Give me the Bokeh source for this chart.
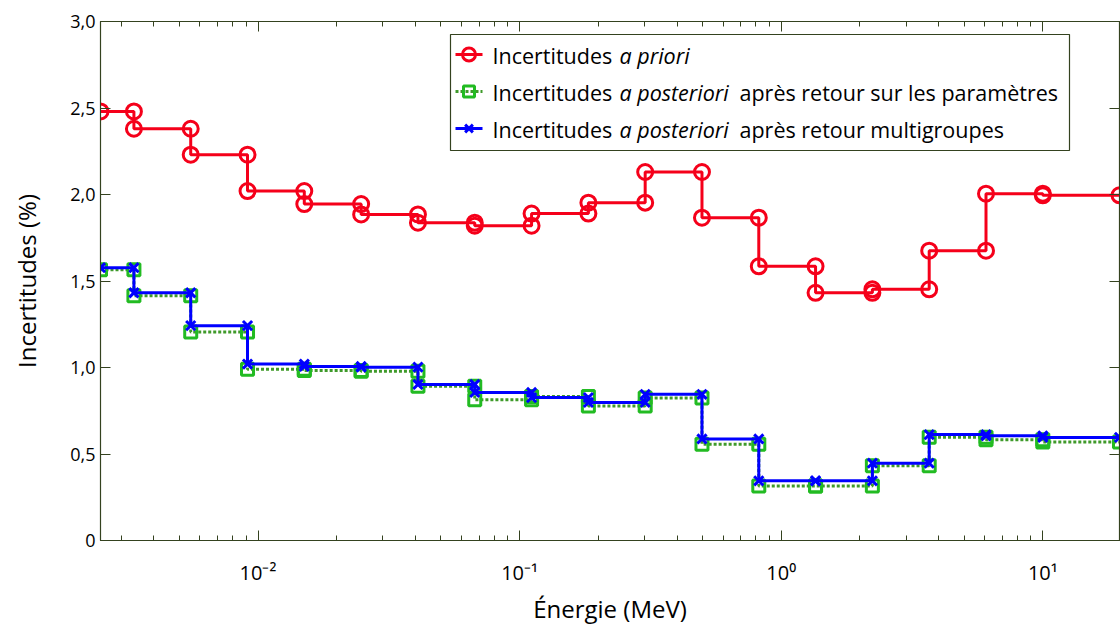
import math
from bokeh.plotting import figure
from bokeh.models import Range1d, LogAxis, LinearAxis, FixedTicker
from bokeh.core.properties import value
from bokeh.embed import file_html
from bokeh.resources import INLINE

# ---------------- data ----------------
energy_bounds = [0.0025, 0.003355, 0.005531, 0.009119, 0.01503, 0.02479, 0.04087,
                 0.06738, 0.1111, 0.1832, 0.3020, 0.4979, 0.8209, 1.353, 2.231,
                 3.679, 6.065, 10.0, 19.64]
unc_a_priori = [2.48, 2.38, 2.23, 2.02, 1.945, 1.885, 1.837, 1.82, 1.89, 1.953,
                2.13, 1.866, 1.585, 1.432, 1.452, 1.675, 2.005, 1.995]
unc_post_param = [1.565, 1.415, 1.205, 0.99, 0.982, 0.978, 0.892, 0.813, 0.833,
                  0.778, 0.823, 0.557, 0.315, 0.315, 0.432, 0.597, 0.582, 0.570]
unc_post_mg = [1.577, 1.432, 1.242, 1.020, 1.006, 1.002, 0.902, 0.856, 0.826,
               0.798, 0.845, 0.587, 0.345, 0.345, 0.447, 0.612, 0.605, 0.596]

y_ticks = [0, 0.5, 1.0, 1.5, 2.0, 2.5, 3.0]
y_tick_labels = ["0", "0,5", "1,0", "1,5", "2,0", "2,5", "3,0"]
x_major_ticks = [0.01, 0.1, 1.0, 10.0]
x_tick_labels = ["10\u207b\u00b2", "10\u207b\u00b9", "10\u2070", "10\u00b9"]

legend_labels_italic = ["a priori", "a posteriori", "a posteriori"]
legend_labels_tail = ["apr\u00e8s retour sur les param\u00e8tres", "apr\u00e8s retour multigroupes"]


def steps(bounds, vals):
    xs, ys = [], []
    for i, v in enumerate(vals):
        xs += [bounds[i], bounds[i + 1]]
        ys += [v, v]
    return xs, ys


# ---------------- layout ----------------
W, H = 1120, 634
BL, BR, BT, BB = 100, 1, 21, 94
FONT = "Open Sans"
AX = "#34421f"

p = figure(width=W, height=H, x_axis_type="log",
           x_range=Range1d(energy_bounds[0], energy_bounds[-1]),
           y_range=Range1d(0, 3.0),
           output_backend="svg", toolbar_location=None,
           min_border_left=BL, min_border_right=BR, min_border_top=BT, min_border_bottom=BB)
p.xgrid.visible = False
p.ygrid.visible = False
p.outline_line_color = AX
p.outline_line_width = 1.2
p.background_fill_color = "white"
p.border_fill_color = "white"

minor = [m * 10.0 ** e for e in range(-3, 2) for m in range(2, 10)]
xt = FixedTicker(ticks=x_major_ticks, minor_ticks=minor)
yt = FixedTicker(ticks=y_ticks, minor_ticks=[])

xa = p.xaxis[0]
xa.ticker = xt
xa.major_label_overrides = {t: l for t, l in zip(x_major_ticks, x_tick_labels)}
xa.axis_label = "\u00c9nergie (MeV)"

ya = p.yaxis[0]
ya.ticker = yt
ya.major_label_overrides = {t: l for t, l in zip(y_ticks, y_tick_labels)}
ya.axis_label = "Incertitudes (%)"

for ax in (xa, ya):
    ax.axis_line_color = AX
    ax.major_tick_line_color = AX
    ax.minor_tick_line_color = AX
    ax.major_tick_in = 10
    ax.major_tick_out = 0
    ax.minor_tick_in = 5
    ax.minor_tick_out = 0
    ax.major_label_text_font = FONT
    ax.major_label_text_font_size = "18px"
    ax.major_label_text_color = "black"
    ax.axis_label_text_font = FONT
    ax.axis_label_text_font_size = "24px"
    ax.axis_label_text_font_style = "normal"
    ax.axis_label_text_color = "black"

xa.major_label_text_font_size = "20px"
xa.major_label_standoff = 18
xa.axis_label_standoff = 3
ya.major_label_standoff = 5
ya.axis_label_standoff = 24

top = LogAxis(ticker=FixedTicker(ticks=x_major_ticks, minor_ticks=minor))
right = LinearAxis(ticker=FixedTicker(ticks=y_ticks, minor_ticks=[]))
for ax in (top, right):
    ax.axis_line_color = AX
    ax.major_tick_line_color = AX
    ax.minor_tick_line_color = AX
    ax.major_tick_in = 10
    ax.major_tick_out = 0
    ax.minor_tick_in = 5
    ax.minor_tick_out = 0
    ax.major_label_text_font_size = "1px"
    ax.major_label_text_alpha = 0
    ax.major_label_standoff = 0
p.add_layout(top, "above")
p.add_layout(right, "right")

# ---------------- series ----------------
RED = "#f5001a"
GREEN_L = "#3f9a2a"
GREEN_M = "#22bb22"
BLUE = "#0000ff"

xs, ys = steps(energy_bounds, unc_a_priori)
p.line(xs, ys, line_color=RED, line_width=3)
p.scatter(xs, ys, marker="circle", size=15, fill_color=None, line_color=RED, line_width=3)

xs, ys = steps(energy_bounds, unc_post_param)
p.line(xs, ys, line_color=GREEN_L, line_width=3, line_dash="3 2")
p.scatter(xs, ys, marker="square", size=12, fill_color=None, line_color=GREEN_M, line_width=3)

xs, ys = steps(energy_bounds, unc_post_mg)
p.line(xs, ys, line_color=BLUE, line_width=3)
p.scatter(xs, ys, marker="x", size=13, line_color=BLUE, line_width=3)

# ---------------- pixel helpers for the legend ----------------
FL, FR, FT, FB = BL, W - BR, BT, H - BB
lx0, lx1 = math.log10(energy_bounds[0]), math.log10(energy_bounds[-1])


def px2x(px):
    return 10 ** (lx0 + (px - FL) / (FR - FL) * (lx1 - lx0))


def py2y(py):
    return (FB - py) / (FB - FT) * 3.0


# ---------------- legend (hand-built for mixed italic text) ----------------
p.quad(left=[px2x(450)], right=[px2x(1069)], top=[py2y(34)], bottom=[py2y(150)],
       fill_color="white", line_color=AX, line_width=1.2)
rows = [54, 91, 128]
styles = [(RED, None, "circle", RED, 13), (GREEN_L, "3 2", "square", GREEN_M, 11),
          (BLUE, None, "x", BLUE, 11)]
for r, (lc, dash, mk, mc, ms) in zip(rows, styles):
    kw = {"line_dash": dash} if dash else {}
    p.line([px2x(455), px2x(482)], [py2y(r)] * 2, line_color=lc, line_width=3, **kw)
    p.scatter([px2x(468.5)], [py2y(r)], marker=mk, size=ms, fill_color=None,
              line_color=mc, line_width=3)

LFS = "21.5px"
p.text(x=[px2x(492)] * 3, y=[py2y(r + 1) for r in rows], text=["Incertitudes"] * 3,
       text_font=value(FONT), text_font_size=LFS, text_baseline="middle", text_color="black")
p.text(x=[px2x(619)] * 3, y=[py2y(r + 1) for r in rows], text=legend_labels_italic,
       text_font=value(FONT), text_font_size=LFS, text_font_style="italic",
       text_baseline="middle", text_color="black")
p.text(x=[px2x(739)] * 2, y=[py2y(r + 1) for r in rows[1:]], text=legend_labels_tail,
       text_font=value(FONT), text_font_size=LFS, text_baseline="middle", text_color="black")

open("out.html", "w").write(file_html(p, INLINE))
